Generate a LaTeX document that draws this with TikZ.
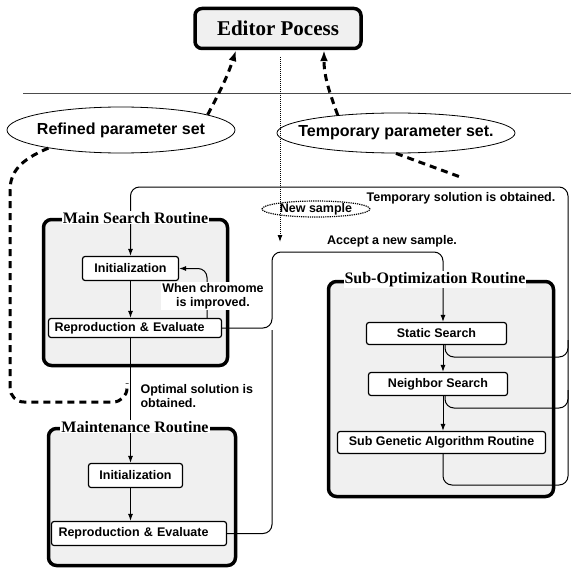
\documentclass[tikz,border=0pt]{standalone}
\usepackage{fontspec}
\usetikzlibrary{shapes.geometric,arrows.meta}
\newfontfamily\helv{Liberation Sans}
\newfontfamily\rmtitle{Liberation Serif}
\definecolor{boxgray}{RGB}{240,240,240}

\begin{document}
\begin{tikzpicture}[x=1pt,y=-1pt,>={Latex[length=7pt,width=5pt]},
  txt/.style={font=\helv\bfseries\fontsize{12.5}{14}\selectfont},
  routine/.style={draw,rounded corners=8pt,line width=3.5pt,fill=boxgray},
  rtitle/.style={fill=white,inner sep=1pt,font=\rmtitle\bfseries\fontsize{16}{18}\selectfont},
  stepbox/.style={txt,draw,rounded corners=2.5pt,line width=1.2pt,fill=white,inner sep=0pt},
  bubble/.style={draw,ellipse,inner xsep=-40pt,inner ysep=-10pt},
  conn/.style={line width=1pt,rounded corners=9pt},
  bigdash/.style={line width=3pt,dash pattern=on 7pt off 5pt}]
\useasboundingbox (0,0) rectangle (571,572);
\node[draw,rounded corners=7pt,line width=3.5pt,fill=boxgray,minimum width=166pt,minimum height=40pt,inner sep=0pt,font=\rmtitle\bfseries\fontsize{21}{24}\selectfont] (editor) at (278,28.5) {Editor Pocess};
\draw[line width=0.8pt,black!70] (23,93) -- (571,93);

\node[bubble,line width=0.8pt,minimum width=228pt,minimum height=46pt,font=\helv\bfseries\fontsize{16}{18}\selectfont] (refined) at (121,130) {Refined parameter set};
\node[bubble,line width=0.8pt,minimum width=238pt,minimum height=40pt,font=\helv\bfseries\fontsize{16}{18}\selectfont] (temporary) at (396,133) {Temporary parameter set.};

\node[routine,minimum width=184pt,minimum height=146pt] (mainbox) at (135.5,292.5) {};
\node[routine,minimum width=187pt,minimum height=137pt] (maintbox) at (142,497) {};
\node[routine,minimum width=225pt,minimum height=215pt] (subbox) at (441,389) {};

\node[stepbox,minimum width=96pt,minimum height=24pt] (maininit) at (130.5,268.5) {Initialization};
\node[stepbox,minimum height=19pt,text width=161pt,inner xsep=6pt,align=left] (mainrepro) at (135,328) {Reproduction \& Evaluate};
\node[stepbox,minimum width=94pt,minimum height=24pt] (maintinit) at (135.5,475.5) {Initialization};
\node[stepbox,minimum height=24pt,text width=161pt,inner xsep=7pt,align=left] (maintrepro) at (139,533.5) {Reproduction \& Evaluate};
\node[stepbox,minimum width=140pt,minimum height=22pt] (static) at (436.5,333.5) {Static Search};
\node[stepbox,minimum width=139pt,minimum height=23pt] (neighbor) at (438,384) {Neighbor Search};
\node[stepbox,minimum width=208pt,minimum height=22pt] (subga) at (441.5,442.5) {Sub Genetic Algorithm Routine};

\coordinate (spine) at (443,0);
\coordinate (spineb) at (445,0);
\coordinate (nstop) at (280,57);
\coordinate (nsend) at (280,242);
\coordinate (tempend) at (463,178);
\coordinate (optend) at (127,383);

\draw[conn,->] (subga.south -| spine) -- (443,485) -- (568,485) -- (568,187) -- (130.5,187) -- (maininit.north);
\draw[conn] (static.south -| spineb) -- (445,357) -- (568,357) -- (568,340);
\draw[conn] (neighbor.south -| spineb) -- (445,408) -- (568,408) -- (568,390);
\draw[conn,->] (mainrepro.east) -- (272,328) -- (272,252) -- (443,252) -- (static.north -| spine);
\draw[conn] (maintrepro.east) -- (272,533.5) -- (272,330);
\draw[conn,->] (static.south -| spine) -- (neighbor.north -| spine);
\draw[conn,->] (neighbor.south -| spine) -- (subga.north -| spine);
\draw[conn,->] (maininit.south) -- (maininit.south |- mainrepro.north);
\draw[conn,->] ([xshift=72pt]mainrepro.north) |- (maininit.east);
\draw[conn,->] (maininit.south |- mainrepro.south) -- (maininit.south |- maintinit.north);
\draw[conn,->] (maininit.south |- maintinit.south) -- (maininit.south |- maintrepro.north);

\draw[densely dotted,line width=1pt,->] (nstop) -- (nsend);
\node[bubble,densely dotted,line width=1.2pt,minimum width=108pt,minimum height=16pt,txt] (newsample) at (316,209) {New sample};

\draw[bigdash,->,>={Latex[length=11pt,width=8pt]}] (refined.10) to[out=62,in=-108] ([xshift=-42pt]editor.south);
\draw[bigdash,->,>={Latex[length=11pt,width=8pt]}] (temporary.163) to[out=110,in=-90] ([xshift=46pt]editor.south);
\draw[bigdash] (temporary.south) -- (tempend);
\draw[bigdash,rounded corners=14pt] (refined.194) .. controls (20,160) and (10,172) .. (10,205) -- (10,402) -- (127,402) -- (optend);

\node[rtitle] (maintitle) at (mainbox.north) {Main Search Routine};
\node[rtitle] (mainttitle) at ([xshift=-7pt]maintbox.north) {Maintenance Routine};
\node[rtitle] (subtitle) at ([xshift=-6pt]subbox.north) {Sub-Optimization Routine};

\node[txt,fill=white,inner sep=1pt,align=center] (improved) at (213,296) {When chromome\\is improved.};
\node[txt,align=left,anchor=west] (optimal) at (137,396) {Optimal solution is\\obtained.};
\node[txt] (tempsol) at (461,198) {Temporary solution is obtained.};
\node[txt] (accept) at (392,241) {Accept a new sample.};
\end{tikzpicture}
\end{document}
